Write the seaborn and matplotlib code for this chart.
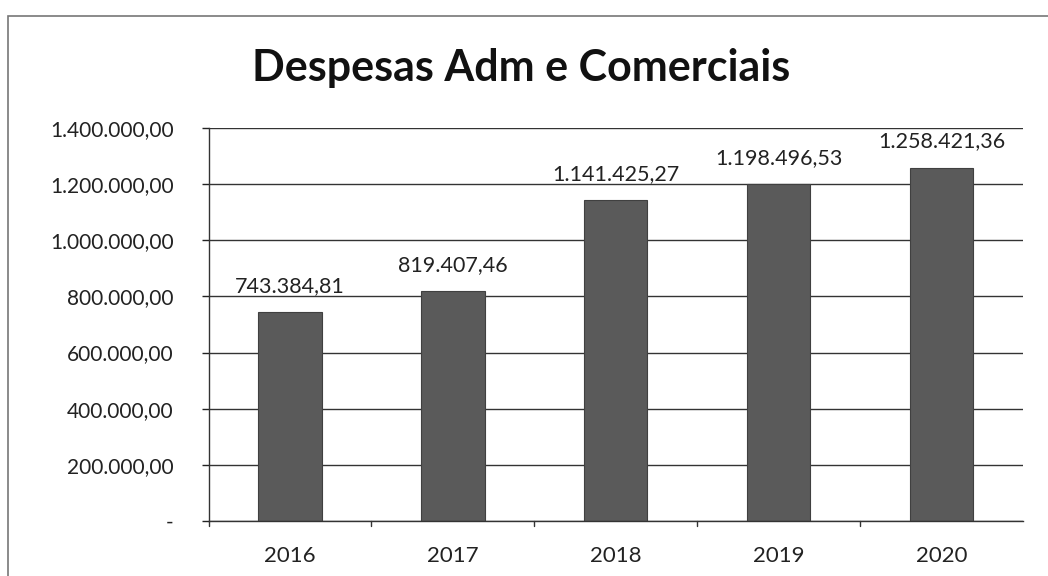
import matplotlib
matplotlib.use("Agg")
import matplotlib.pyplot as plt
import seaborn as sns
import pandas as pd
from matplotlib.patches import Rectangle
from matplotlib.ticker import FuncFormatter, MultipleLocator

years = ["2016", "2017", "2018", "2019", "2020"]
values = [743384.81, 819407.46, 1141425.27, 1198496.53, 1258421.36]
title = "Despesas Adm e Comerciais"

def br(v):
    if v == 0:
        return "-"
    s = f"{v:,.2f}"
    return s.replace(",", "X").replace(".", ",").replace("X", ".")

sns.set_theme(style="white")
plt.rcParams["font.family"] = ["Lato", "DejaVu Sans"]

fig = plt.figure(figsize=(10.48, 5.76), dpi=100)
ax = fig.add_axes([0.199, 0.0955, 0.777, 0.6825])

df = pd.DataFrame({"Ano": years, "Valor": values})
sns.barplot(data=df, x="Ano", y="Valor", color="#5a5a5a", width=0.39,
            saturation=1, ax=ax, edgecolor="#404040", linewidth=0.8)

ax.set_ylim(0, 1400000)
ax.yaxis.set_major_locator(MultipleLocator(200000))
ax.yaxis.set_major_formatter(FuncFormatter(lambda v, p: br(v)))
ax.set_xlim(-0.5, len(years) - 0.5)
ax.set_xlabel("")
ax.set_ylabel("")
ax.grid(axis="y", color="#333333", linewidth=1.0)
ax.set_axisbelow(True)
for side in ["top", "right"]:
    ax.spines[side].set_visible(False)
for side in ["left", "bottom"]:
    ax.spines[side].set_color("#333333")
    ax.spines[side].set_linewidth(1.0)

ax.tick_params(axis="y", labelsize=15, colors="#222222", length=5,
               left=True, direction="out", pad=20, width=1)
ax.tick_params(axis="x", labelsize=16, colors="#222222", bottom=False, pad=12)
# category-boundary ticks
for b in [0.5 + i for i in range(len(years) - 1)] + [-0.5]:
    ax.plot([b, b], [0, -0.012], transform=ax.get_xaxis_transform(),
            color="#333333", linewidth=1, clip_on=False)

for patch, v in zip(ax.patches, values):
    ax.annotate(br(v), (patch.get_x() + patch.get_width() / 2, patch.get_height()),
                xytext=(0, 14.5), textcoords="offset points", ha="center",
                va="baseline", fontsize=15.5, color="#222222")

fig.text(0.497, 0.882, title, ha="center", va="center", fontsize=31,
         fontweight="bold", color="#111111")

fig.patches.append(Rectangle((0.008, -0.05), 1.1, 1.022, transform=fig.transFigure,
                             fill=False, edgecolor="#777777", linewidth=1.2))

fig.savefig("out.png", dpi=100)
